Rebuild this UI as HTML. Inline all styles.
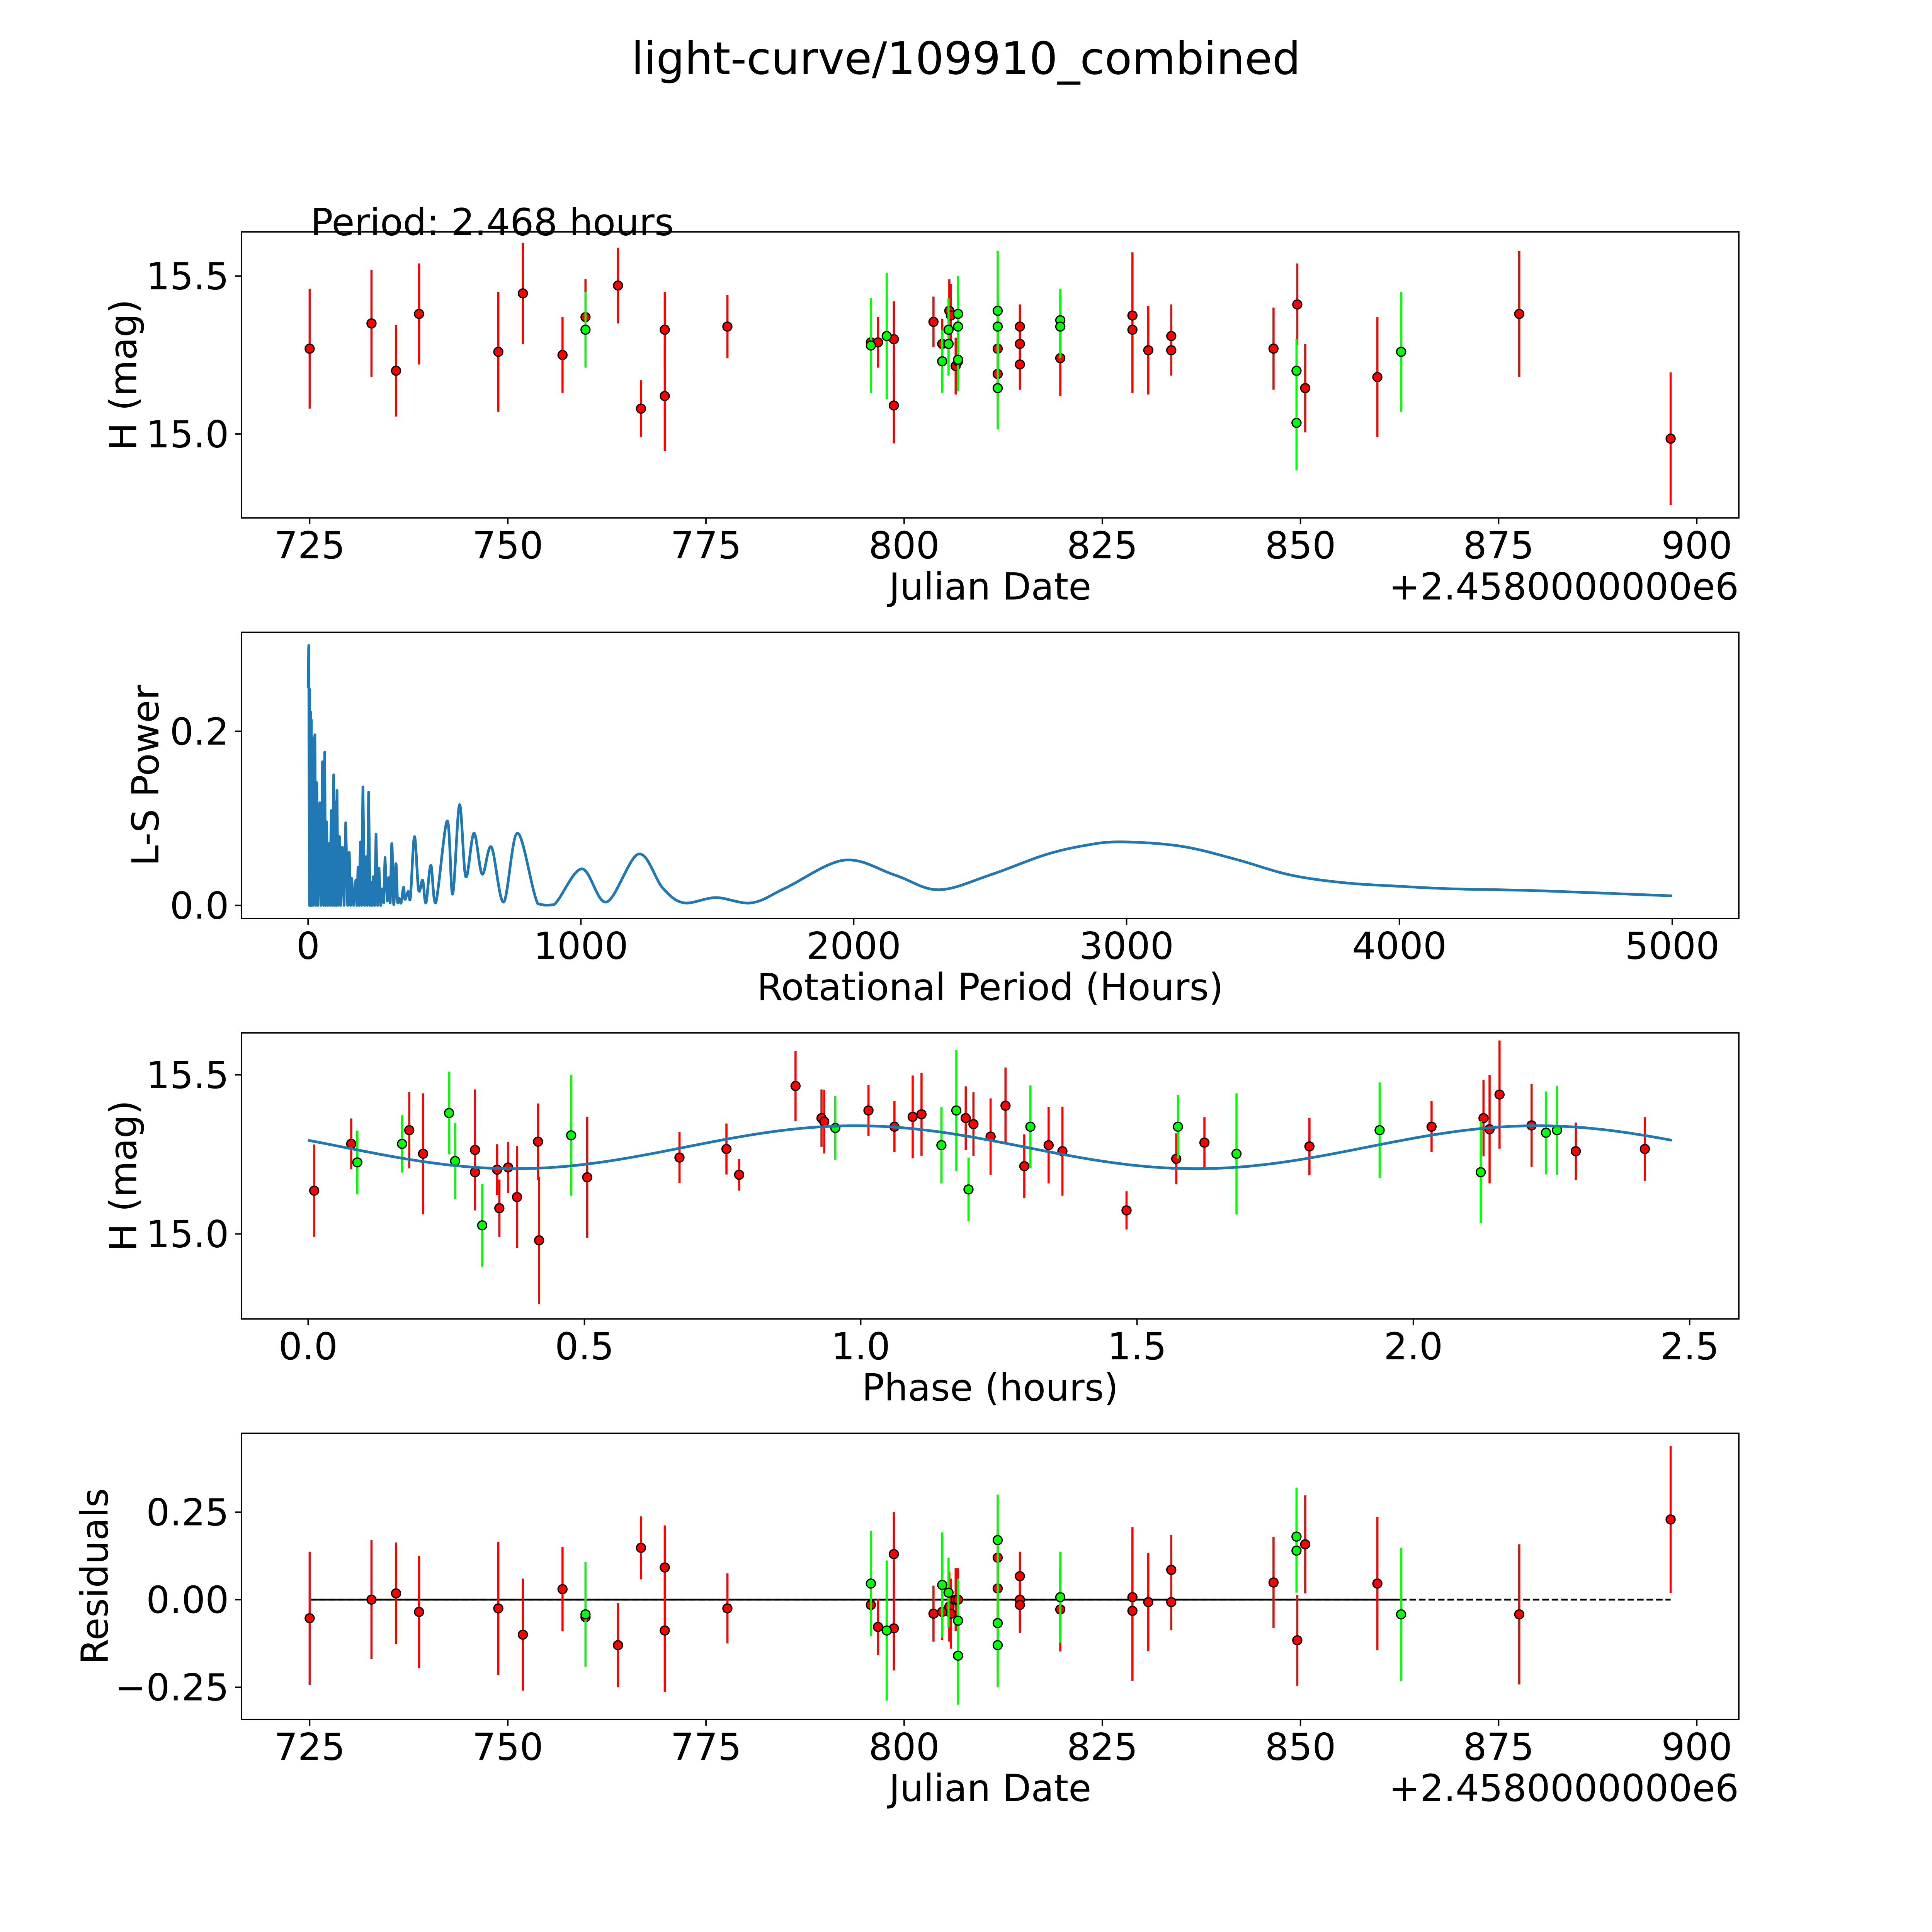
<!DOCTYPE html>
<html><head><meta charset="utf-8"><style>
html,body{margin:0;padding:0;background:#fff;overflow:hidden;width:100%;height:100%;}
svg{display:block;width:100vw;height:100vh;font-family:"DejaVu Sans","Liberation Sans",sans-serif;}
</style></head><body>
<svg id="chart" xmlns="http://www.w3.org/2000/svg" viewBox="0 0 5400 5400" preserveAspectRatio="xMinYMin meet">
<rect width="5400" height="5400" fill="#fff"/>
<text x="2700" y="207" font-size="125" text-anchor="middle">light-curve/109910_combined</text>
<text x="868" y="657" font-size="104">Period: 2.468 hours</text>
</svg>
<script>
// ---- Light curve (top) red series ----
const lcRedDate=[725,732.8,735.9,738.8,748.8,751.9,756.9,759.8,763.9,766.8,769.8,769.8,777.7,795.8,796.7,798.7,798.7,803.7,804.8,805.7,805.9,806.5,806.8,811.8,811.8,814.6,814.6,814.6,819.7,828.8,828.8,830.8,833.7,833.7,846.6,849.6,850.6,859.7,877.6,896.7];
const lcRedMag=[15.27,15.35,15.20,15.38,15.26,15.445,15.25,15.37,15.47,15.08,15.33,15.12,15.34,15.29,15.29,15.30,15.09,15.355,15.285,15.39,15.375,15.215,15.23,15.27,15.19,15.34,15.285,15.22,15.24,15.375,15.33,15.265,15.31,15.265,15.27,15.41,15.145,15.18,15.38,14.985];
const lcRedErr=[0.19,0.17,0.145,0.16,0.19,0.16,0.12,0.12,0.12,0.09,0.12,0.175,0.10,0.08,0.08,0.12,0.12,0.08,0.08,0.1,0.1,0.09,0.09,0.08,0.08,0.07,0.08,0.08,0.12,0.2,0.2,0.14,0.1,0.08,0.13,0.13,0.14,0.19,0.2,0.21];
const resRed=[-0.053,0.0,0.018,-0.035,-0.025,-0.10,0.03,-0.05,-0.13,0.148,0.092,-0.088,-0.025,-0.015,-0.078,0.13,-0.082,-0.04,-0.035,-0.02,-0.04,0.0,0.0,0.12,0.032,0.067,0.0,-0.015,-0.028,0.007,-0.032,-0.007,0.085,-0.007,0.049,-0.116,0.158,0.046,-0.042,0.229];
// ---- green series ----
const lcGreenDate=[759.8,795.8,797.8,804.8,805.6,805.6,806.8,806.8,806.8,811.8,811.8,811.8,819.7,819.7,849.5,849.5,862.7];
const lcGreenMag=[15.33,15.28,15.31,15.23,15.285,15.33,15.38,15.34,15.235,15.39,15.34,15.145,15.36,15.34,15.20,15.035,15.26];
const lcGreenErr=[0.12,0.15,0.2,0.1,0.1,0.1,0.12,0.1,0.1,0.19,0.1,0.13,0.1,0.1,0.1,0.15,0.19];
const resGreenDate=[759.8,795.8,797.8,804.8,805.6,806.8,806.8,811.8,811.8,811.8,819.7,849.5,849.5,862.7];
const resGreen=[-0.042,0.046,-0.088,0.042,0.02,-0.06,-0.16,0.17,-0.067,-0.13,0.007,0.18,0.14,-0.042];
const resGreenErr=[0.15,0.15,0.2,0.15,0.1,0.12,0.14,0.13,0.12,0.12,0.13,0.14,0.12,0.19];
// ---- periodogram ----
const lsPeriod=[0,2.468,5,6,8,10,11,12,13,15,18,25,28,32,36,43,47,53,57,61,64,68,72,76,80,85,89,94,97,100,103,106,110,115,120,126,132,138,145,151,156,160,167,175,179,183,187,192,196,201,207,213,217,222,227,231,235,239,244,249,255,260,266,272,277,282,290,296,301,307,314,322,328,334,341,350,355,367,375,390,405,420,432,450,468,510,530,555,578,608,638,672,717,768,842,902,1003,1094,1211,1300,1377,1495,1626,1750,1965,2150,2310,2500,2700,2850,2980,3200,3400,3600,3800,4000,4200,4500,5000];
const lsPower=[0.25,0.2986,0,0.248,0,0.222,0,0.213,0,0.193,0,0.196,0,0.141,0,0.118,0,0.165,0,0.176,0,0.096,0,0.071,0,0.109,0,0.150,0,0.119,0,0.132,0,0.079,0,0.067,0,0.095,0,0.061,0,0.031,0,0.029,0,0.044,0,0.073,0,0.136,0,0.056,0,0.130,0,0.027,0,0.033,0,0.082,0,0.043,0,0.019,0.003,0.055,0.005,0.032,0.003,0.071,0.001,0.048,0.004,0.008,0.003,0.021,0.007,0.016,0.009,0.079,0.018,0.029,0.003,0.046,0.003,0.097,0.013,0.1156,0.033,0.083,0.036,0.067,0.004,0.083,0.002,0.001,0.042,0.004,0.059,0.02,0.003,0.009,0.003,0.02,0.052,0.035,0.018,0.035,0.058,0.069,0.073,0.068,0.053,0.035,0.026,0.022,0.019,0.017,0.011];
// ---- phase-folded ----
const phRedPhase=[0.011,0.078,0.183,0.208,0.302,0.302,0.342,0.362,0.346,0.378,0.416,0.418,0.505,0.672,0.757,0.78,0.882,0.929,0.934,1.014,1.061,1.094,1.11,1.19,1.204,1.235,1.262,1.296,1.34,1.365,1.481,1.571,1.622,1.812,2.033,2.127,2.138,2.156,2.214,2.294,2.419];
const phRedMag=[15.136,15.283,15.326,15.252,15.264,15.194,15.202,15.209,15.081,15.116,15.29,14.98,15.178,15.24,15.267,15.186,15.465,15.364,15.353,15.388,15.337,15.368,15.376,15.364,15.345,15.306,15.403,15.213,15.279,15.26,15.074,15.236,15.287,15.275,15.337,15.364,15.329,15.438,15.341,15.26,15.267];
const phRedErr=[0.145,0.08,0.12,0.19,0.19,0.12,0.08,0.08,0.09,0.16,0.12,0.2,0.19,0.08,0.08,0.05,0.11,0.09,0.1,0.08,0.08,0.13,0.13,0.1,0.1,0.12,0.12,0.1,0.12,0.14,0.06,0.08,0.08,0.09,0.08,0.12,0.17,0.17,0.13,0.09,0.1];
const phGreenPhase=[0.089,0.17,0.255,0.266,0.315,0.476,0.954,1.146,1.173,1.195,1.307,1.574,1.68,1.939,2.122,2.24,2.26];
const phGreenMag=[15.225,15.283,15.38,15.229,15.027,15.31,15.333,15.279,15.388,15.14,15.337,15.337,15.252,15.326,15.194,15.318,15.326];
const phGreenErr=[0.1,0.09,0.13,0.12,0.13,0.19,0.1,0.12,0.19,0.1,0.13,0.1,0.19,0.15,0.16,0.13,0.14];
const fitParams=[15.2725,0.0675,1.234,0.99,2.468]; // mean, amplitude, half period, phase of max, span

const NS="http://www.w3.org/2000/svg";
const svg=document.getElementById('chart');
const FS=104;
function mk(tag,attrs,parent){const e=document.createElementNS(NS,tag);for(const k in attrs)e.setAttribute(k,attrs[k]);(parent||svg).appendChild(e);return e;}
const L=675,R=4860,H=799.6;
const tops=[648,1767.4,2886.8,4006.2];
function axis(i,x0,x1,y0,y1){const t=tops[i];return{t:t,b:t+H,sx:v=>L+(v-x0)/(x1-x0)*(R-L),sy:v=>t+H-(v-y0)/(y1-y0)*H};}
const A1=axis(0,716.4,905.3,14.734,15.64);
const A2=axis(1,-244,5244,-0.0149,0.3136);
const A3=axis(2,-0.1206,2.589,14.733,15.632);
const A4=axis(3,716.4,905.3,-0.342,0.475);

function frame(ax,name,xt,xl,yt,yl,xlabel,ylabel,ylx){
  const g=mk('g',{});
  
  
  xt.forEach((v,k)=>{const x=ax.sx(v);
    const tk=mk('line',{x1:x,x2:x,y1:ax.b,y2:ax.b+17.5,stroke:'#000','stroke-width':4},g);
    
    
    const tx=mk('text',{x:x,y:ax.b+113,'font-size':FS,'text-anchor':'middle'},g);tx.textContent=xl[k];
    
    });
  yt.forEach((v,k)=>{const y=ax.sy(v);
    const tk=mk('line',{x1:L-17.5,x2:L,y1:y,y2:y,stroke:'#000','stroke-width':4},g);
    
    
    const tx=mk('text',{x:L-35,y:y+37,'font-size':FS,'text-anchor':'end'},g);tx.textContent=yl[k];
    
    });
  const r=mk('rect',{x:L,y:ax.t,width:R-L,height:H,fill:'none',stroke:'#000','stroke-width':4},g);
  
  
  const xlab=mk('text',{x:(L+R)/2,y:ax.b+228,'font-size':FS,'text-anchor':'middle'},g);xlab.textContent=xlabel;
  
  
  const cy=ax.t+H/2;
  const ylab=mk('text',{x:ylx,y:cy,'font-size':FS,'text-anchor':'middle',transform:`rotate(-90 ${ylx} ${cy})`,'dominant-baseline':'central'},g);ylab.textContent=ylabel;
  
  
  return g;
}
function offsetText(ax){const t=mk('text',{x:R,y:ax.b+228,'font-size':FS,'text-anchor':'end'});t.textContent='+2.4580000000e6';
  
  }
function errSeries(ax,xs,ys,es,color,name){
  const g=mk('g',{});
  
  
  xs.forEach((x,k)=>{const l=mk('line',{x1:ax.sx(x),x2:ax.sx(x),y1:ax.sy(ys[k]-es[k]),y2:ax.sy(ys[k]+es[k]),stroke:color,'stroke-width':6},g);
    
    });
  xs.forEach((x,k)=>{const c=mk('circle',{cx:ax.sx(x),cy:ax.sy(ys[k]),r:12.5,fill:color,stroke:'#000','stroke-width':3.5},g);
    
    });
}
const jdT=[725,750,775,800,825,850,875,900];const jdL=jdT.map(String);
// Panel 1
frame(A1,'light-curve-panel',jdT,jdL,[15.0,15.5],['15.0','15.5'],'Julian Date','H (mag)',345);
offsetText(A1);
errSeries(A1,lcRedDate,lcRedMag,lcRedErr,'#ff0000','light-curve-red-series');
errSeries(A1,lcGreenDate,lcGreenMag,lcGreenErr,'#00ff00','light-curve-green-series');
// Panel 2
frame(A2,'periodogram-panel',[0,1000,2000,3000,4000,5000],['0','1000','2000','3000','4000','5000'],[0,0.2],['0.0','0.2'],'Rotational Period (Hours)','L-S Power',407);
(function(){
  const pts=lsPeriod.map((p,k)=>[A2.sx(p),A2.sy(lsPower[k])]);
  let d='M'+pts[0][0]+','+pts[0][1];
  for(let k=1;k<pts.length;k++){
    if(lsPeriod[k]<=300){d+=' L'+pts[k][0]+','+pts[k][1];}
    else{const p0=pts[k-2]||pts[k-1],p1=pts[k-1],p2=pts[k],p3=pts[k+1]||pts[k];
      const c1=[p1[0]+(p2[0]-p0[0])/6,p1[1]+(p2[1]-p0[1])/6],c2=[p2[0]-(p3[0]-p1[0])/6,p2[1]-(p3[1]-p1[1])/6];
      d+=` C${c1[0]},${Math.min(c1[1],A2.sy(0))} ${c2[0]},${Math.min(c2[1],A2.sy(0))} ${p2[0]},${p2[1]}`;}
  }
  const p=mk('path',{d:d,fill:'none',stroke:'#1f77b4','stroke-width':7.5,'stroke-linejoin':'round'});
  
  
})();
// Panel 3
frame(A3,'phase-panel',[0,0.5,1,1.5,2,2.5],['0.0','0.5','1.0','1.5','2.0','2.5'],[15.0,15.5],['15.0','15.5'],'Phase (hours)','H (mag)',345);
errSeries(A3,phRedPhase,phRedMag,phRedErr,'#ff0000','phase-red-series');
errSeries(A3,phGreenPhase,phGreenMag,phGreenErr,'#00ff00','phase-green-series');
(function(){
  let d='';
  for(let k=0;k<=300;k++){const x=fitParams[4]*k/300;const m=fitParams[0]+fitParams[1]*Math.cos(2*Math.PI*(x-fitParams[3])/fitParams[2]);
    d+=(k?' L':'M')+A3.sx(x)+','+A3.sy(m);}
  const p=mk('path',{d:d,fill:'none',stroke:'#1f77b4','stroke-width':7.5});
  
  
})();
// Panel 4
frame(A4,'residuals-panel',jdT,jdL,[-0.25,0,0.25],['\u22120.25','0.00','0.25'],'Julian Date','Residuals',265);
offsetText(A4);
(function(){
  const z=mk('line',{x1:A4.sx(725),x2:A4.sx(896.7),y1:A4.sy(0),y2:A4.sy(0),stroke:'#000','stroke-width':5,'stroke-dasharray':'18.5 8'});
  
  
  const s=mk('line',{x1:A4.sx(725),x2:A4.sx(862.7),y1:A4.sy(0),y2:A4.sy(0),stroke:'#000','stroke-width':5});
  
  
})();
errSeries(A4,lcRedDate,resRed,lcRedErr,'#ff0000','residuals-red-series');
errSeries(A4,resGreenDate,resGreen,resGreenErr,'#00ff00','residuals-green-series');
</script>
</body></html>
